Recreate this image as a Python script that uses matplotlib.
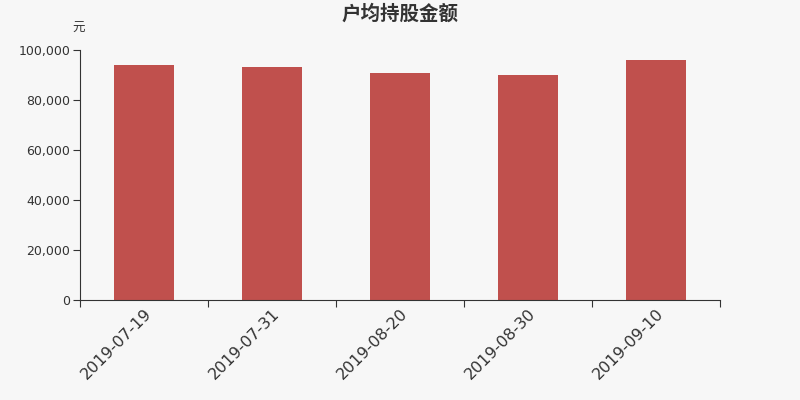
import matplotlib.pyplot as plt
import matplotlib.transforms as mtransforms
import numpy as np
from matplotlib.ticker import FuncFormatter

plt.rcParams["font.family"] = ["DejaVu Sans", "Noto Sans CJK SC"]

dates = ["2019-07-19", "2019-07-31", "2019-08-20", "2019-08-30", "2019-09-10"]
amounts = [94000, 93200, 90800, 89900, 96100]
y_ticks = [0, 20000, 40000, 60000, 80000, 100000]

bg = "#f7f7f7"
bar_color = "#c0504d"
text_color = "#333333"
cjk = ["Noto Sans CJK SC", "DejaVu Sans"]

fig = plt.figure(figsize=(8, 4), dpi=100, facecolor=bg)
ax = fig.add_axes([0.1, 0.25, 0.8, 0.625], facecolor=bg)

x = np.arange(len(dates))
ax.bar(x, amounts, width=0.47, color=bar_color, zorder=2)

ax.set_xlim(-0.5, len(dates) - 0.5)
ax.set_ylim(0, 100000)
ax.set_yticks(y_ticks)
ax.yaxis.set_major_formatter(FuncFormatter(lambda v, _: f"{int(v):,}"))

# ticks sit on category boundaries, labels at the centres
ax.set_xticks(np.arange(len(dates) + 1) - 0.5)
ax.set_xticklabels([])
ax.set_xticks(x, minor=True)
labels = ax.set_xticklabels(dates, minor=True, rotation=45, ha="right",
                            va="top", rotation_mode="anchor", fontsize=11.5,
                            color=text_color)
shift = mtransforms.ScaledTranslation(-5 / 72, -2 / 72, fig.dpi_scale_trans)
for lab in labels:
    lab.set_transform(lab.get_transform() + shift)
ax.tick_params(axis="x", which="minor", length=0, pad=4)
ax.tick_params(axis="x", which="major", length=5, color=text_color)
ax.tick_params(axis="y", length=5, pad=2, color=text_color, labelsize=9,
               labelcolor=text_color)

for side in ("top", "right"):
    ax.spines[side].set_visible(False)
for side in ("left", "bottom"):
    ax.spines[side].set_color(text_color)

fig.text(0.5, 0.965, "户均持股金额", ha="center", va="center",
         fontsize=14, fontweight="bold", color=text_color, family=cjk)
fig.text(0.098, 0.93, "元", ha="center", va="center", fontsize=9,
         color=text_color, family=cjk)

fig.savefig("out.png", dpi=100, facecolor=bg)
